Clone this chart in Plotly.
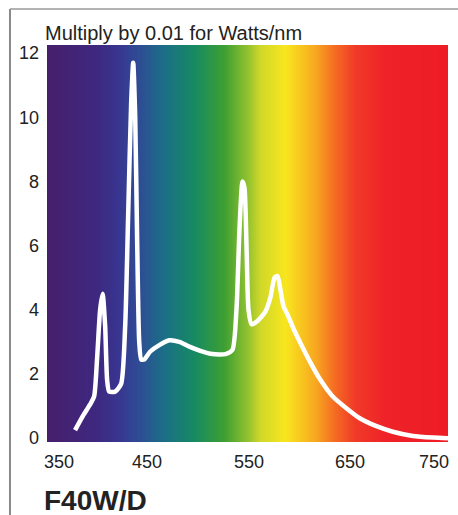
import numpy as np
import plotly.graph_objects as go

# ---- data ----
wavelength_nm = [378, 385, 393, 397, 400, 403, 405.5, 408, 410, 412, 418, 424, 428, 431, 434, 436,
                 438, 440, 442, 444, 447, 453, 462, 472, 482, 492, 503, 515, 528, 535, 539, 542,
                 545, 547, 549, 551, 554, 560, 568, 573, 577, 580, 583, 586, 590, 596, 603, 612,
                 622, 635, 648, 662, 678, 695, 715, 735, 750]
power = [0.25, 0.65, 1.05, 1.3, 2.5, 4.0, 4.5, 3.5, 1.8, 1.45, 1.45, 1.7, 3.5, 7.0, 10.5, 11.7,
         10.0, 6.0, 3.0, 2.45, 2.45, 2.7, 2.9, 3.05, 3.0, 2.85, 2.72, 2.62, 2.62, 2.75, 4.0, 6.5,
         8.0, 7.8, 6.0, 4.0, 3.55, 3.65, 3.95, 4.4, 5.0, 5.05, 4.6, 4.1, 3.85, 3.4, 2.95, 2.4,
         1.85, 1.3, 0.95, 0.62, 0.38, 0.2, 0.07, 0.02, 0.0]

y_tick_values = [0, 2, 4, 6, 8, 10, 12]
x_tick_values = [350, 450, 550, 650, 750]
x_tick_labels = ["350", "450", "550", "650", "750"]

spectrum_stop_nm = [350, 400, 420, 440, 467, 497, 527, 547, 562, 587, 617, 637, 657, 687, 750]
spectrum_stop_color = ["#461f6c", "#3e2880", "#383590", "#2f4a95", "#1b6f86", "#168a62", "#3e9f32",
                       "#86bd30", "#cfd829", "#f8e61e", "#f8a820", "#f46a22", "#f03a28", "#ee2228", "#ee1c25"]

title_text = "Multiply by 0.01 for Watts/nm"
label_text = "F40W/D"

# ---- figure ----
FONT = "Liberation Sans, Arial, sans-serif"
x_min, x_max = 350, 750
y_min, y_max = -0.12, 12.25

colorscale = [[(w - x_min) / (x_max - x_min), c] for w, c in zip(spectrum_stop_nm, spectrum_stop_color)]
bg_x = np.arange(x_min, x_max + 1, 2)
fig = go.Figure()
fig.add_trace(go.Heatmap(
    x=bg_x, y=[y_min, y_max], z=[bg_x, bg_x],
    colorscale=colorscale, zmin=x_min, zmax=x_max, zsmooth="best",
    showscale=False, hoverinfo="skip"))
fig.add_trace(go.Scatter(
    x=wavelength_nm, y=power, mode="lines",
    line=dict(color="white", width=4.5, shape="spline", smoothing=0.6),
    hoverinfo="skip"))

fig.update_layout(
    width=458, height=515,
    margin=dict(l=47, r=10, t=45, b=73),
    paper_bgcolor="white", plot_bgcolor="white",
    showlegend=False,
    font=dict(family=FONT, color="#222"),
    xaxis=dict(range=[x_min, x_max], showticklabels=False, showgrid=False, zeroline=False,
               ticks="", showline=False),
    yaxis=dict(range=[y_min, y_max], tickvals=y_tick_values, showgrid=False, zeroline=False,
               ticks="", showline=False, tickfont=dict(size=18, color="#222", family=FONT),
               ticklabelstandoff=7),
)

x_label_shift = [12, 0, 1, 2, -14]
for v, t, s in zip(x_tick_values, x_tick_labels, x_label_shift):
    fig.add_annotation(x=v, xref="x", y=0, yref="paper", text=t, showarrow=False,
                       xanchor="center", yanchor="top", yshift=-8, xshift=s,
                       font=dict(size=18, color="#222", family=FONT))

fig.add_annotation(x=0, xref="paper", y=1, yref="paper", text=title_text, showarrow=False,
                   xanchor="left", yanchor="bottom", xshift=-4, yshift=-1,
                   font=dict(size=20, color="#222", family=FONT))
fig.add_annotation(x=0, xref="paper", y=0, yref="paper", text="<b>" + label_text + "</b>",
                   showarrow=False, xanchor="left", yanchor="top", xshift=-5, yshift=-41,
                   font=dict(size=28, color="#222", family=FONT))

# frame
fig.add_shape(type="line", xref="paper", yref="paper", x0=-0.0923, x1=-0.0923, y0=1.0907, y1=-0.2,
              line=dict(color="#8a8a8a", width=2))
fig.add_shape(type="line", xref="paper", yref="paper", x0=-0.0923, x1=1.03, y0=1.0907, y1=1.0907,
              line=dict(color="#9a9a9a", width=1.5))

fig.write_html("out.html", config={"displayModeBar": False},
               post_script="document.body.style.margin='0px';document.body.style.overflow='hidden';")
